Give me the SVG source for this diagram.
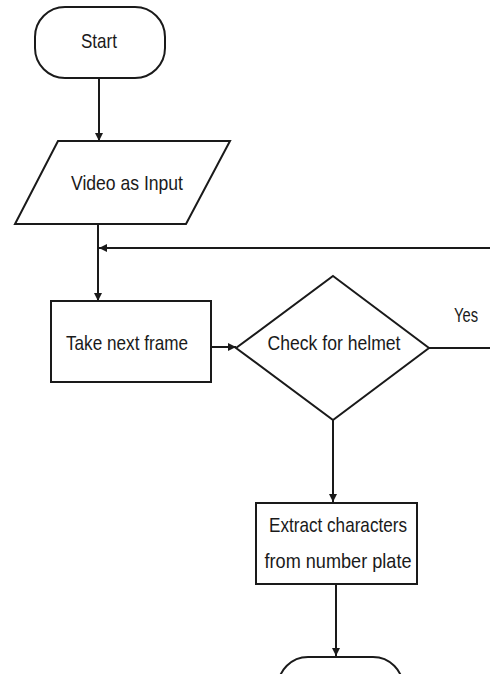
<svg xmlns="http://www.w3.org/2000/svg" width="490" height="674" viewBox="0 0 490 674">
<style>
.s{fill:#fff;stroke:#1a1a1a;stroke-width:2}
.c{fill:none;stroke:#1a1a1a;stroke-width:2}
.t{font-family:"Liberation Sans",Arial,sans-serif;font-size:21px;fill:#1a1a1a;text-anchor:middle;dominant-baseline:central}
</style>
<defs>
<marker id="a" viewBox="0 0 10 10" refX="10" refY="5" markerWidth="4" markerHeight="4" orient="auto" markerUnits="strokeWidth">
<path d="M0,0 L10,5 L0,10 z" fill="#1a1a1a"/>
</marker>
</defs>
<g id="connectors">
<line class="c" x1="99" y1="78" x2="99" y2="141" marker-end="url(#a)"/>
<line class="c" x1="98" y1="224" x2="98" y2="301" marker-end="url(#a)"/>
<line class="c" x1="490" y1="248" x2="99" y2="248" marker-end="url(#a)"/>
<line class="c" x1="211" y1="347" x2="236" y2="347" marker-end="url(#a)"/>
<line class="c" x1="429" y1="348" x2="490" y2="348"/>
<line class="c" x1="333" y1="420" x2="333" y2="502" marker-end="url(#a)"/>
<line class="c" x1="336" y1="584" x2="336" y2="656" marker-end="url(#a)"/>
<text class="t" x="466" y="314" textLength="24" lengthAdjust="spacingAndGlyphs">Yes</text>
</g>
<g id="start">
<rect class="s" x="35" y="7" width="130" height="71" rx="30" ry="30"/>
<text class="t" x="99" y="40" textLength="36" lengthAdjust="spacingAndGlyphs">Start</text>
</g>
<g id="input">
<polygon class="s" points="58,141 230,141 186,224 15,224"/>
<text class="t" x="127" y="182" textLength="112" lengthAdjust="spacingAndGlyphs">Video as Input</text>
</g>
<g id="frame">
<rect class="s" x="51" y="301" width="160" height="81"/>
<text class="t" x="127" y="342" textLength="122" lengthAdjust="spacingAndGlyphs">Take next frame</text>
</g>
<g id="helmet">
<polygon class="s" points="333,276 429,348 333,420 236,348"/>
<text class="t" x="334" y="342" textLength="133" lengthAdjust="spacingAndGlyphs">Check for helmet</text>
</g>
<g id="extract">
<rect class="s" x="256" y="503" width="161" height="81"/>
<text class="t" x="338" y="524" textLength="138" lengthAdjust="spacingAndGlyphs">Extract characters</text>
<text class="t" x="338" y="560" textLength="147" lengthAdjust="spacingAndGlyphs">from number plate</text>
</g>
<g id="end">
<rect class="s" x="278" y="657" width="125" height="60" rx="30" ry="30"/>
</g>
</svg>
